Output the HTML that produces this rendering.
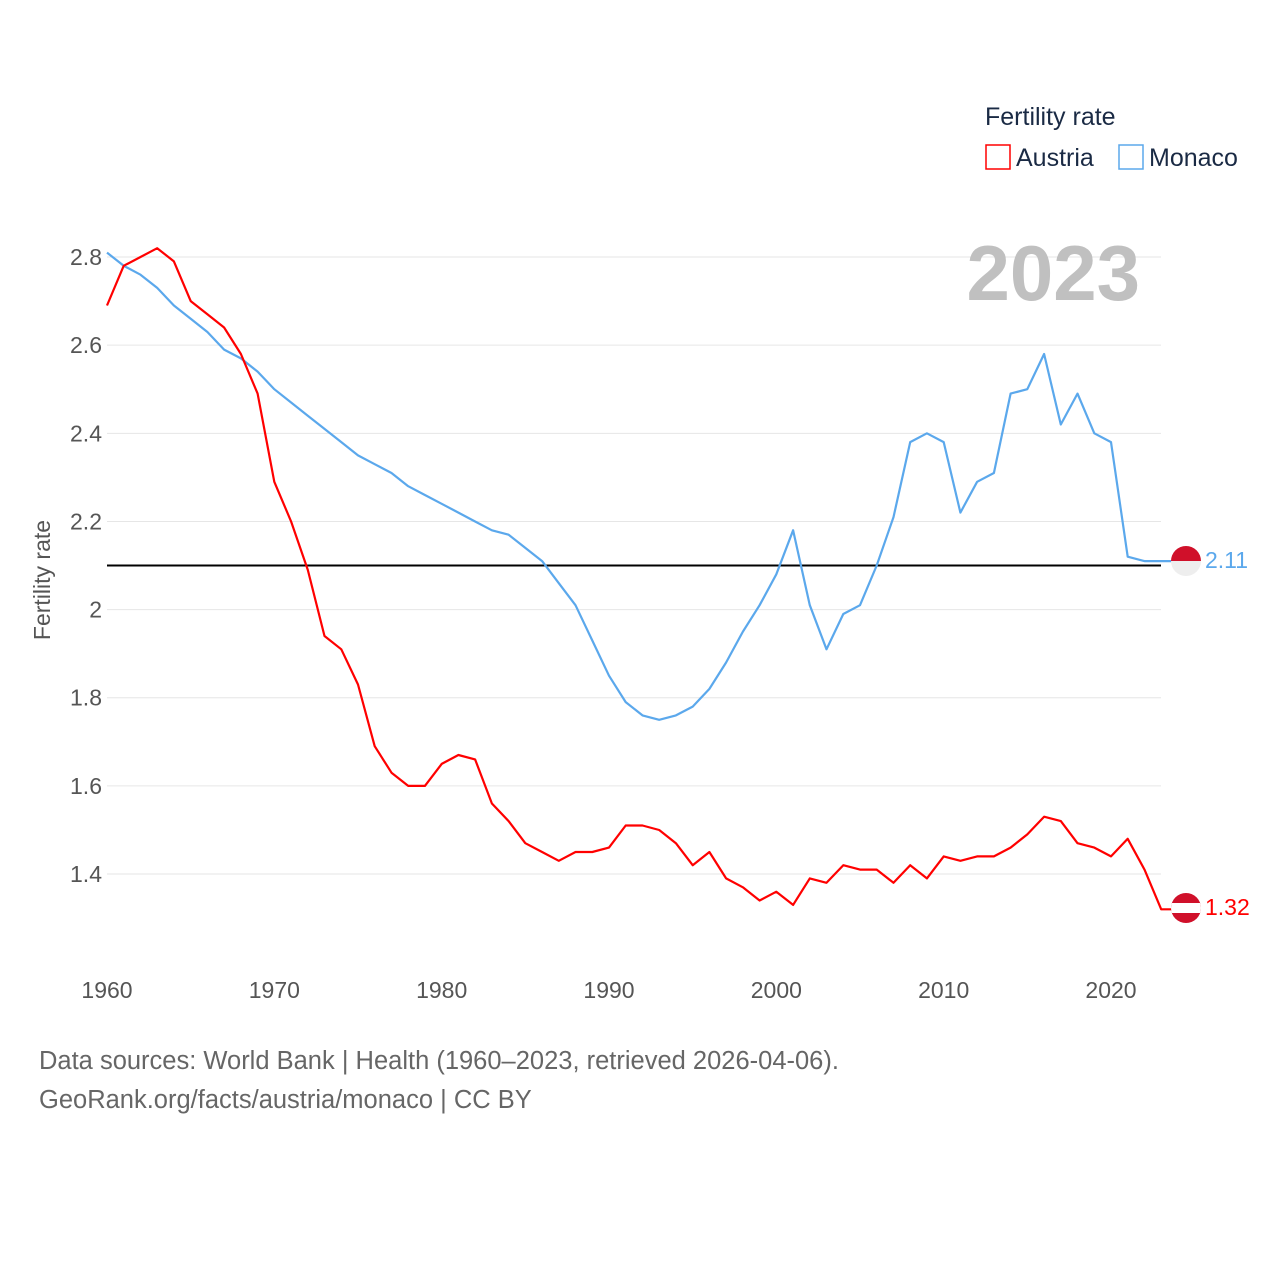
<!DOCTYPE html>
<html><head><meta charset="utf-8"><style>
body{margin:0;background:#fff;}
svg text{font-family:"Liberation Sans",sans-serif;}
</style></head><body>
<svg id="chart" width="1280" height="1280" xmlns="http://www.w3.org/2000/svg">
<defs>
<clipPath id="cm"><circle cx="1186" cy="561" r="15"/></clipPath>
<clipPath id="ca"><circle cx="1186" cy="908" r="15"/></clipPath>
</defs>
<g id="grid"></g>
<g id="lines"></g>
<text x="1140" y="300" text-anchor="end" font-size="78" font-weight="bold" fill="#c0c0c0">2023</text>
<text x="985" y="125" font-size="25" fill="#1a2a44">Fertility rate</text>
<g><rect x="986" y="145" width="24" height="24" fill="none" stroke="#ff0000" stroke-width="1.5"/><text x="1016" y="166" font-size="25" fill="#1a2a44">Austria</text></g>
<g><rect x="1119" y="145" width="24" height="24" fill="none" stroke="#5ba8ec" stroke-width="1.5"/><text x="1149" y="166" font-size="25" fill="#1a2a44">Monaco</text></g>
<text transform="translate(50,580) rotate(-90)" text-anchor="middle" font-size="23" fill="#555">Fertility rate</text>
<g clip-path="url(#cm)"><rect x="1171" y="546" width="30" height="15" fill="#d0102a"/><rect x="1171" y="561" width="30" height="15" fill="#eee"/></g>
<g clip-path="url(#ca)"><rect x="1171" y="893" width="30" height="30" fill="#d0102a"/><rect x="1171" y="903" width="30" height="10" fill="#fff"/></g>
<text x="1205" y="568" font-size="23" fill="#5ba8ec">2.11</text>
<text x="1205" y="915" font-size="23" fill="#ff0000">1.32</text>
<text x="39" y="1069" font-size="25.5" fill="#666">Data sources: World Bank | Health (1960–2023, retrieved 2026-04-06).</text>
<text x="39" y="1108" font-size="25.5" fill="#666">GeoRank.org/facts/austria/monaco | CC BY</text>
</svg>
<script>
const years=[];for(let y=1960;y<=2023;y++)years.push(y);
const austria=[2.69,2.78,2.80,2.82,2.79,2.70,2.67,2.64,2.58,2.49,2.29,2.20,2.09,1.94,1.91,1.83,1.69,1.63,1.60,1.60,1.65,1.67,1.66,1.56,1.52,1.47,1.45,1.43,1.45,1.45,1.46,1.51,1.51,1.50,1.47,1.42,1.45,1.39,1.37,1.34,1.36,1.33,1.39,1.38,1.42,1.41,1.41,1.38,1.42,1.39,1.44,1.43,1.44,1.44,1.46,1.49,1.53,1.52,1.47,1.46,1.44,1.48,1.41,1.32];
const monaco=[2.81,2.78,2.76,2.73,2.69,2.66,2.63,2.59,2.57,2.54,2.50,2.47,2.44,2.41,2.38,2.35,2.33,2.31,2.28,2.26,2.24,2.22,2.20,2.18,2.17,2.14,2.11,2.06,2.01,1.93,1.85,1.79,1.76,1.75,1.76,1.78,1.82,1.88,1.95,2.01,2.08,2.18,2.01,1.91,1.99,2.01,2.10,2.21,2.38,2.40,2.38,2.22,2.29,2.31,2.49,2.50,2.58,2.42,2.49,2.40,2.38,2.12,2.11,2.11];
const yTicks=[1.4,1.6,1.8,2,2.2,2.4,2.6,2.8];
const xTicks=[1960,1970,1980,1990,2000,2010,2020];
const refLine=2.1;
const NS="http://www.w3.org/2000/svg";
const xs=y=>107+(y-1960)*(1004/60);
const ys=v=>609.6-(v-2)*(617/1.4);
const grid=document.getElementById('grid'),lines=document.getElementById('lines');
function mk(tag,attrs,parent,text){const e=document.createElementNS(NS,tag);for(const k in attrs)e.setAttribute(k,attrs[k]);if(text!==undefined)e.textContent=text;parent.appendChild(e);return e;}
yTicks.forEach(v=>{
 const l=mk('line',{x1:107,x2:1161,y1:ys(v),y2:ys(v),stroke:'#e6e6e6','stroke-width':1},grid);
 
 
 const t=mk('text',{x:102,y:ys(v)+8,'text-anchor':'end','font-size':23,fill:'#555'},grid,String(v));
 
 
});
xTicks.forEach(y=>{
 const t=mk('text',{x:xs(y),y:998,'text-anchor':'middle','font-size':23,fill:'#555'},grid,String(y));
 
 
});
const ref=mk('line',{x1:107,x2:1161,y1:ys(refLine),y2:ys(refLine),stroke:'#000','stroke-width':2},lines);


function series(vals,color,name){
 let d=vals.map((v,i)=>(i?'L':'M')+xs(years[i]).toFixed(1)+','+ys(v).toFixed(1)).join('');
 d+='L1172,'+ys(vals[vals.length-1]).toFixed(1);
 const p=mk('path',{d:d,fill:'none',stroke:color,'stroke-width':2.2,'stroke-linejoin':'round'},lines);
 
 
}
series(monaco,'#5ba8ec','monaco-line');
series(austria,'#ff0000','austria-line');
</script>
</body></html>
